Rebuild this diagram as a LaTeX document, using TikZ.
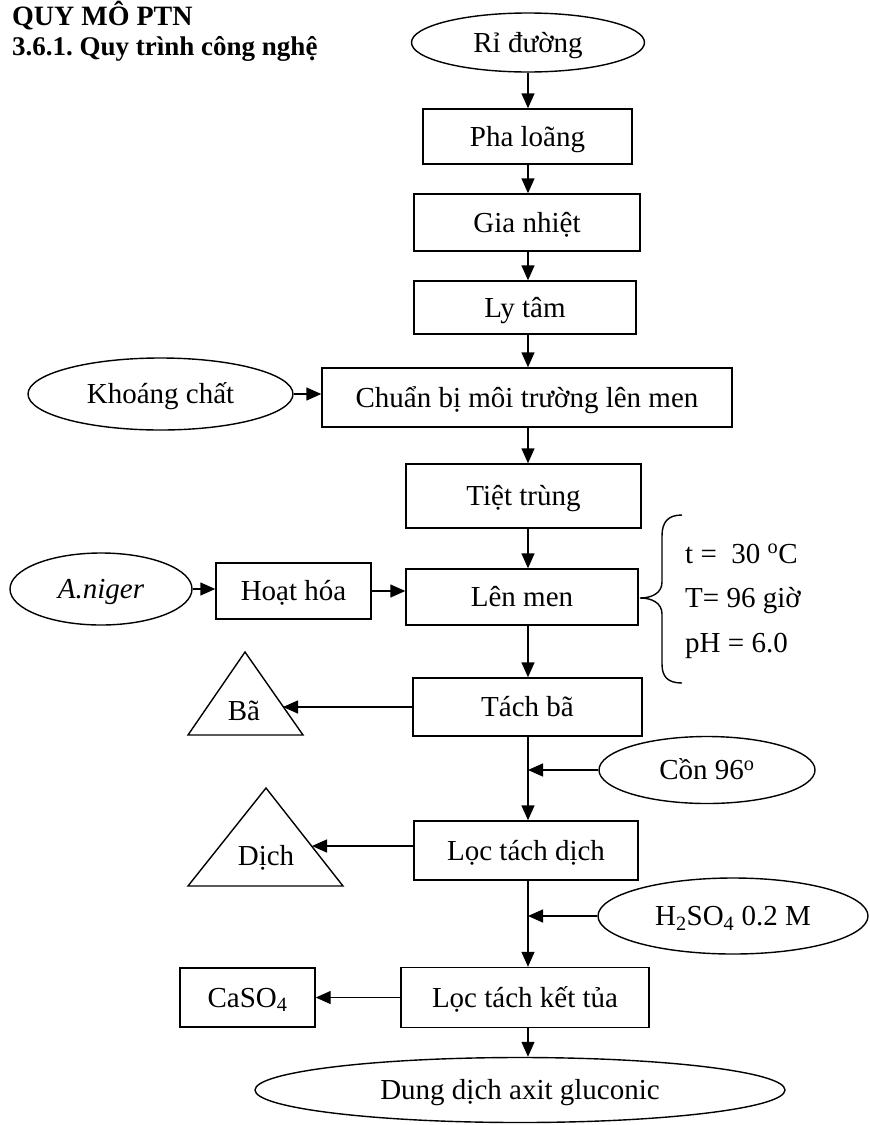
\documentclass[tikz,border=0pt]{standalone}
\usepackage{fontspec}
\setmainfont{Liberation Serif}
\usetikzlibrary{shapes.geometric,arrows.meta}
\frenchspacing
\begin{document}
\begin{tikzpicture}[x=1pt,y=-1pt,
  every node/.style={font=\fontsize{29}{35}\selectfont, inner sep=0pt, text height=19pt, text depth=0pt},
  box/.style={draw, line width=1.4pt, rectangle},
  ell/.style={draw, line width=1.4pt, ellipse},
  arr/.style={line width=1.4pt, -{Triangle[length=15pt,width=13pt]}},
  tri/.style={line width=1.4pt, line join=miter},
  title/.style={anchor=base west, font=\bfseries\fontsize{28}{34}\selectfont},
  param/.style={anchor=base west}
]
\useasboundingbox (0,0) rectangle (870,1125);
% titles
\node[title] (t1) at (12,25) {QUY MÔ PTN};
\node[title, font=\bfseries\fontsize{27}{32}\selectfont] (t2) at (12,55) {3.6.1. Quy trình công nghệ};
% column
\coordinate (col) at (528,0);
% main nodes
\node[ell, minimum width=233pt, minimum height=59pt] (ri) at (528,42.5) {Rỉ đường};
\node[box, minimum width=209pt, minimum height=55pt] (pha) at (527.5,136.5) {Pha loãng};
\node[box, minimum width=226pt, minimum height=57pt] (gia) at (527,222.5) {Gia nhiệt};
\node[box, minimum width=222pt, minimum height=53pt] (ly) at (525,307.5) {Ly tâm};
\node[box, minimum width=410pt, minimum height=59pt] (cb) at (527,397.5) {Chuẩn bị môi trường lên men};
\node[ell, minimum width=265pt, minimum height=72pt] (kc) at (160.5,394) {Khoáng chất};
\node[box, minimum width=235pt, minimum height=64pt] (tt) at (523.5,496) {Tiệt trùng};
\node[ell, minimum width=182pt, minimum height=72pt] (an) at (101,589) {\textit{A.niger}};
\node[box, minimum width=155pt, minimum height=56pt] (hh) at (293.5,591) {Hoạt hóa};
\node[box, minimum width=232pt, minimum height=56pt] (lm) at (522,597) {Lên men};
\node[box, minimum width=229pt, minimum height=58pt] (tb) at (527.5,707) {Tách bã};
\node[ell, minimum width=216pt, minimum height=67pt] (con) at (707,770) {Cồn 96\textsuperscript{o}};
\node[box, minimum width=224pt, minimum height=59pt] (ltd) at (526,850.5) {Lọc tách dịch};
\node[ell, minimum width=270pt, minimum height=76pt] (hs) at (733,916) {H\textsubscript{2}SO\textsubscript{4} 0.2 M};
\node[box, minimum width=248pt, minimum height=60pt] (ltk) at (525,997.5) {Lọc tách kết tủa};
\node[box, minimum width=135pt, minimum height=59pt] (ca) at (247.5,997.5) {CaSO\textsubscript{4}};
\node[ell, minimum width=530pt, minimum height=65pt] (dd) at (520,1090) {Dung dịch axit gluconic};
% triangles
\draw[tri] (245,652) -- (303,735) -- (188,735) -- cycle;
\node[anchor=base] (ba) at (244,720) {Bã};
\coordinate (baR) at (283,707);
\draw[tri] (266,788) -- (343,886) -- (188,886) -- cycle;
\node[anchor=base] (dich) at (266,865) {Dịch};
\coordinate (dichR) at (312,846);
% brace and parameters
\draw[line width=1.4pt] (682,515) .. controls (668,515) and (662,522) .. (662,536) -- (662,582)
  .. controls (662,593) and (652,598) .. (640,598)
  .. controls (652,598) and (662,603) .. (662,614) -- (662,664)
  .. controls (662,677) and (668,683) .. (682,683);
\node[param] (p1) at (685,563) {t =\ \ 30 \textsuperscript{o}C};
\node[param] (p2) at (685,607) {T= 96 giờ};
\node[param] (p3) at (685,652) {pH = 6.0};
% connectors
\draw[arr] (ri.south -| col) -- (pha.north -| col);
\draw[arr] (pha.south -| col) -- (gia.north -| col);
\draw[arr] (gia.south -| col) -- (ly.north -| col);
\draw[arr] (ly.south -| col) -- (cb.north -| col);
\draw[arr] (kc.east) -- (kc.east -| cb.west);
\draw[arr] (cb.south -| col) -- (tt.north -| col);
\draw[arr] (tt.south -| col) -- (lm.north -| col);
\draw[arr] (an.east) -- (an.east -| hh.west);
\draw[arr] (hh.east) -- (hh.east -| lm.west);
\draw[arr] (lm.south -| col) -- (tb.north -| col);
\draw[arr] (tb.west) -- (tb.west -| baR);
\draw[arr] (tb.south -| col) -- (ltd.north -| col);
\coordinate (j1) at (col |- con.west);
\draw[arr] (con.west) -- (j1);
\draw[arr] (ltd.west |- dichR) -- (dichR);
\draw[arr] (ltd.south -| col) -- (ltk.north -| col);
\coordinate (j2) at (col |- hs.west);
\draw[arr] (hs.west) -- (j2);
\draw[arr] (ltk.west) -- (ca.east);
\draw[arr] (ltk.south -| col) -- (dd.north -| col);
\end{tikzpicture}
\end{document}
